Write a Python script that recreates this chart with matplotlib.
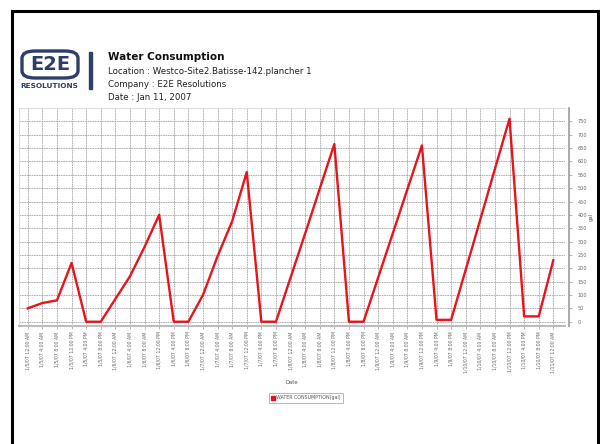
import matplotlib
matplotlib.use("Agg")
import matplotlib.pyplot as plt
from matplotlib.lines import Line2D
from matplotlib.patches import FancyBboxPatch, Rectangle

# Readings every 4 hours, 1/5/07 12:00 AM .. 1/11/07 12:00 AM
days = ["1/5/07", "1/6/07", "1/7/07", "1/8/07", "1/9/07", "1/10/07"]
hours = ["12:00 AM", "4:00 AM", "8:00 AM", "12:00 PM", "4:00 PM", "8:00 PM"]
tick_labels = [f"{d} {h}" for d in days for h in hours] + ["1/11/07 12:00 AM"]

consumption = [50, 70, 80, 220, 0, 0,
               85, 170, 280, 400, 0, 0,
               100, 245, 376, 560, 0, 0,
               165, 330, 498, 665, 0, 0,
               165, 330, 495, 660, 7, 7,
               195, 383, 572, 760, 20, 20,
               230]

y_ticks = list(range(0, 800, 50))

title = "Water Consumption"
info_lines = ["Location : Westco-Site2.Batisse-142.plancher 1",
              "Company : E2E Resolutions",
              "Date : Jan 11, 2007"]
series_name = "WATER CONSUMPTION(gal)"

navy = "#2d3f68"
W, H = 600, 444
fig = plt.figure(figsize=(6, 4.44), dpi=100)
fig.patch.set_facecolor("white")

def fx(px):
    return px / W

def fy(py):
    return 1 - py / H

# page frame
fig.add_artist(Line2D([fx(12), fx(12)], [fy(11), 0], color="black", lw=2.2))
fig.add_artist(Line2D([fx(12), fx(598)], [fy(11), fy(11)], color="black", lw=2.2))
fig.add_artist(Line2D([fx(598), fx(598)], [fy(11), 0], color="black", lw=2.2))

# logo
fig.add_artist(FancyBboxPatch((fx(22), fy(78)), fx(56), fy(51) - fy(78),
                              boxstyle="round,pad=0,rounding_size=0.022",
                              fill=False, ec=navy, lw=2.4,
                              transform=fig.transFigure, mutation_aspect=0.74))
fig.text(fx(50), fy(65), "E2E", fontsize=14, fontweight="bold", color=navy,
         ha="center", va="center", family="DejaVu Sans")
fig.text(fx(49), fy(86), "RESOLUTIONS", fontsize=5.3, fontweight="bold", color=navy,
         ha="center", va="center", family="DejaVu Sans")
fig.add_artist(Rectangle((fx(89), fy(89)), fx(3), fy(52) - fy(89), color=navy,
                         transform=fig.transFigure))

# header text
fig.text(fx(108), fy(57), title, fontsize=7.5, fontweight="bold", color="#111",
         ha="left", va="center")
for i, line in enumerate(info_lines):
    fig.text(fx(108), fy(71 + 13.5 * i), line, fontsize=6.2, color="#222",
             ha="left", va="center")

# chart
ax = fig.add_axes([fx(19), fy(326), fx(565) - fx(19), fy(108) - fy(326)])
x = list(range(len(consumption)))
ax.plot(x, consumption, color="#e8141c", lw=1.7, label=series_name, zorder=3)

ax.set_xlim(-0.6, 36.8)
ax.set_ylim(-16, 800)
ax.set_xticks(x)
ax.set_xticklabels(tick_labels, rotation=90)
ax.yaxis.tick_right()
ax.yaxis.set_label_position("right")
ax.set_yticks(y_ticks)
ax.set_yticklabels([str(v) for v in y_ticks])
ax.tick_params(axis="x", labelsize=3.3, labelcolor="#666", length=2, width=0.5,
               color="#999", pad=2)
ax.tick_params(axis="y", labelsize=3.6, labelcolor="#666", length=2, width=0.5,
               color="#999", pad=4)

# dashed grid on every point and every 50 gal, up to the 800 top edge
ax.grid(True, which="major", color="#959595", lw=0.5, ls=(0, (2.5, 1)))
ax.axhline(800, color="#959595", lw=0.5, ls=(0, (2.5, 1)), zorder=0)
ax.set_axisbelow(True)

for side in ("top", "left"):
    ax.spines[side].set_color("#dddddd")
    ax.spines[side].set_linewidth(0.8)
ax.spines["right"].set_position(("outward", 3))
ax.spines["right"].set_color("#aaaaaa")
ax.spines["right"].set_linewidth(1.4)
ax.spines["bottom"].set_color("#bbbbbb")
ax.spines["bottom"].set_linewidth(1.4)

ax.set_xlabel("Date", fontsize=3.8, color="#555", labelpad=5)
ax.set_ylabel("gal", fontsize=3.8, color="#555", labelpad=1)

leg = fig.legend(handles=[Line2D([], [], marker="s", color="#e8141c", ls="none",
                                 markersize=3.5, label=series_name)],
                 loc="center", bbox_to_anchor=(fx(306), fy(398)),
                 fontsize=3.4, frameon=True, fancybox=False,
                 handletextpad=0.2, borderpad=0.5, handlelength=0.8)
leg.get_frame().set_edgecolor("#999999")
leg.get_frame().set_linewidth(0.6)
for t in leg.get_texts():
    t.set_color("#555")

fig.savefig("out.png", dpi=100, facecolor="white")
